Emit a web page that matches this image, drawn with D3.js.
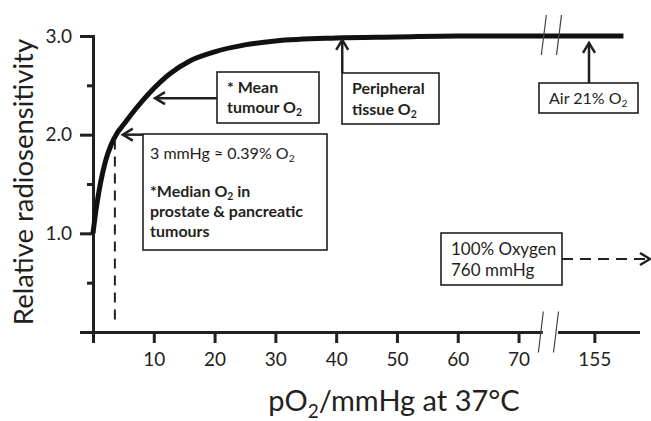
<!DOCTYPE html>
<html>
<head>
<meta charset="utf-8">
<script src="https://cdn.jsdelivr.net/npm/d3@7"></script>
<style>
  body { margin: 0; background: #fff; }
  svg text { font-family: Lato, "Open Sans", sans-serif; fill: #231f20; }
</style>
</head>
<body>
<svg id="chart" width="651" height="421"></svg>
<script>
// Oxygen enhancement of radiosensitivity

// curve (pO2 in mmHg, relative radiosensitivity)
var po2 = [0, 0.3, 0.6, 1.2, 2, 3, 4, 5, 7, 9.4, 12.7, 16, 20, 25, 30, 40, 50, 60, 75, 130, 175];
var sensitivity = [1.0, 1.15, 1.28, 1.50, 1.72, 1.90, 2.02, 2.10, 2.26, 2.43, 2.62, 2.75, 2.84, 2.91, 2.95, 2.98, 2.99, 3.0, 3.0, 3.0, 3.0];

var xTicks = [0, 10, 20, 30, 40, 50, 60, 70, 155];
var yTicks = [0, 1, 2, 3];
var yMinorTicks = [0.5, 1.5, 2.5];
var xBreaks = [74, 130];  // where the axis is cut

var ink = "#231f20";
var svg = d3.select("#chart");

// x is cut between 75 and 130, so the scale is piecewise
var x = d3.scaleLinear().domain([0, 76, 130, 185]).range([93, 555, 558, 638]);
var y = d3.scaleLinear().domain([0, 3]).range([332, 36]);

///////////////////////////////////////////////////////////////////////////////
// Axes

svg.append("g")
  .attr("transform", "translate(0," + y(0) + ")")
  .call(d3.axisBottom(x).tickValues(xTicks).tickSize(11).tickSizeOuter(0).tickPadding(10)
    .tickFormat(function (d) { return d === 0 ? "" : d; }));

svg.append("g")
  .attr("transform", "translate(" + x(0) + ",0)")
  .call(d3.axisLeft(y).tickValues(yTicks).tickSize(13).tickSizeOuter(0).tickPadding(8)
    .tickFormat(function (d) { return d === 0 ? "" : d3.format(".1f")(d); }));

svg.append("g")
  .attr("transform", "translate(" + x(0) + ",0)")
  .call(d3.axisLeft(y).tickValues(yMinorTicks).tickSize(6).tickSizeOuter(0).tickFormat(""));

svg.selectAll(".domain, .tick line").attr("stroke", ink).attr("stroke-width", 3);
svg.selectAll(".tick text").attr("font-size", 19).attr("fill", ink)
  .style("font-family", "Lato, 'Open Sans', sans-serif");
svg.selectAll(".domain").attr("stroke-linecap", "square");

svg.append("text")
  .attr("transform", "translate(33," + (y(1.5) - 2) + ") rotate(-90)")
  .attr("text-anchor", "middle")
  .attr("font-size", 27.5)
  .text("Relative radiosensitivity");

var xTitle = svg.append("text")
  .attr("x", 394).attr("y", 411)
  .attr("text-anchor", "middle")
  .attr("font-size", 29);
xTitle.append("tspan").text("pO");
xTitle.append("tspan").attr("font-size", 19).attr("dy", 7).text("2");
xTitle.append("tspan").attr("dy", -7).text("/mmHg at 37°C");

///////////////////////////////////////////////////////////////////////////////
// Curve

var line = d3.line()
  .x(function (d, i) { return x(po2[i]); })
  .y(function (d) { return y(d); })
  .curve(d3.curveMonotoneX);

svg.append("path")
  .datum(sensitivity)
  .attr("d", line)
  .attr("fill", "none")
  .attr("stroke", "#111")
  .attr("stroke-width", 5);

// break marks on the curve and on the axis
var slash = function (cx, cy, h) {
  return "M" + (cx - 2.5) + "," + (cy + h / 2) + "L" + (cx + 2.5) + "," + (cy - h / 2);
};
var breakX0 = x(xBreaks[0]), breakX1 = x(xBreaks[1]);
svg.append("path")
  .attr("d", "M" + (breakX0 - 2.5) + "," + (y(0) + 21) + "L" + (breakX0 + 2.5) + "," + (y(0) - 20) +
             "L" + (breakX1 + 2.5) + "," + (y(0) - 20) + "L" + (breakX1 - 2.5) + "," + (y(0) + 21) + "Z")
  .attr("fill", "#fff");
[breakX0, breakX1].forEach(function (bx) {
  svg.append("path").attr("d", slash(bx - 2, y(0), 41)).attr("stroke", "#444").attr("stroke-width", 1.2);
  svg.append("path").attr("d", slash(bx + 1, y(3) - 1, 40)).attr("stroke", "#444").attr("stroke-width", 1.2);
});

///////////////////////////////////////////////////////////////////////////////
// Annotations

var arrowHead = function (tx, ty, dir) {
  // open chevron, dir: "left", "up", "right"
  var b = 10, s = 6;
  if (dir === "left")
    return "M" + (tx + b) + "," + (ty - s) + "L" + tx + "," + ty + "L" + (tx + b) + "," + (ty + s);
  if (dir === "right")
    return "M" + (tx - b) + "," + (ty - s) + "L" + tx + "," + ty + "L" + (tx - b) + "," + (ty + s);
  return "M" + (tx - s) + "," + (ty + b) + "L" + tx + "," + ty + "L" + (tx + s) + "," + (ty + b);
};

var arrow = function (x1, y1, x2, y2, dir, dashed) {
  svg.append("line")
    .attr("x1", x1).attr("y1", y1).attr("x2", x2).attr("y2", y2)
    .attr("stroke", ink).attr("stroke-width", dashed ? 2 : 2.5)
    .attr("stroke-dasharray", dashed ? "11,7" : null);
  svg.append("path").attr("d", arrowHead(x2, y2, dir))
    .attr("fill", "none").attr("stroke", ink).attr("stroke-width", 2.5);
};

var box = function (bx, by, w, h) {
  svg.append("rect")
    .attr("x", bx).attr("y", by).attr("width", w).attr("height", h)
    .attr("fill", "#fff").attr("stroke", ink).attr("stroke-width", 1.6);
};

// each line: list of [text, isSubscript]
var label = function (lx, ly, lines, size, bold, gap) {
  lines.forEach(function (segs, i) {
    var t = svg.append("text")
      .attr("x", lx).attr("y", ly + i * gap)
      .attr("font-size", size)
      .attr("font-weight", bold ? "bold" : "normal");
    var down = false;
    segs.forEach(function (s) {
      var sp = t.append("tspan").text(s[0]);
      if (s[1]) { sp.attr("font-size", size * 0.65).attr("dy", 3); down = true; }
      else if (down) { sp.attr("dy", -3); down = false; }
    });
  });
};

// dashed drop line at 3 mmHg
svg.append("line")
  .attr("x1", x(3.6)).attr("x2", x(3.6))
  .attr("y1", y(1.95)).attr("y2", y(0.07))
  .attr("stroke", ink).attr("stroke-width", 2)
  .attr("stroke-dasharray", "10,7");

// mean tumour O2
box(217, 72, 102, 51);
arrow(217, y(2.37), x(10.2), y(2.37), "left");
label(227, 93, [[["* Mean"]], [["tumour O"], ["2", true]]], 16, true, 20);

// 3 mmHg / median
box(143, 134, 184, 116);
arrow(143, y(2), x(4.9), y(2), "left");
label(150, 159, [[["3 mmHg \u2248 0.39% O"], ["2", true]]], 16, false, 0);
label(150, 197, [[["*Median O"], ["2", true], [" in"]], [["prostate & pancreatic"]], [["tumours"]]], 16, true, 20);

// peripheral tissue
box(342, 73, 97, 51);
arrow(x(41), 73, x(41), y(2.96), "up");
label(352, 94, [[["Peripheral"]], [["tissue O"], ["2", true]]], 16, true, 21);

// air
box(539, 83, 99, 30);
arrow(589, 83, 589, y(2.93), "up");
label(549, 104, [[["Air 21% O"], ["2", true]]], 16, false, 0);

// 100% oxygen
box(441, 233, 121, 52);
arrow(562, 259, 650, 259, "right", true);
label(451, 255, [[["100% Oxygen"]], [["760 mmHg"]]], 17, false, 21);
</script>
</body>
</html>
